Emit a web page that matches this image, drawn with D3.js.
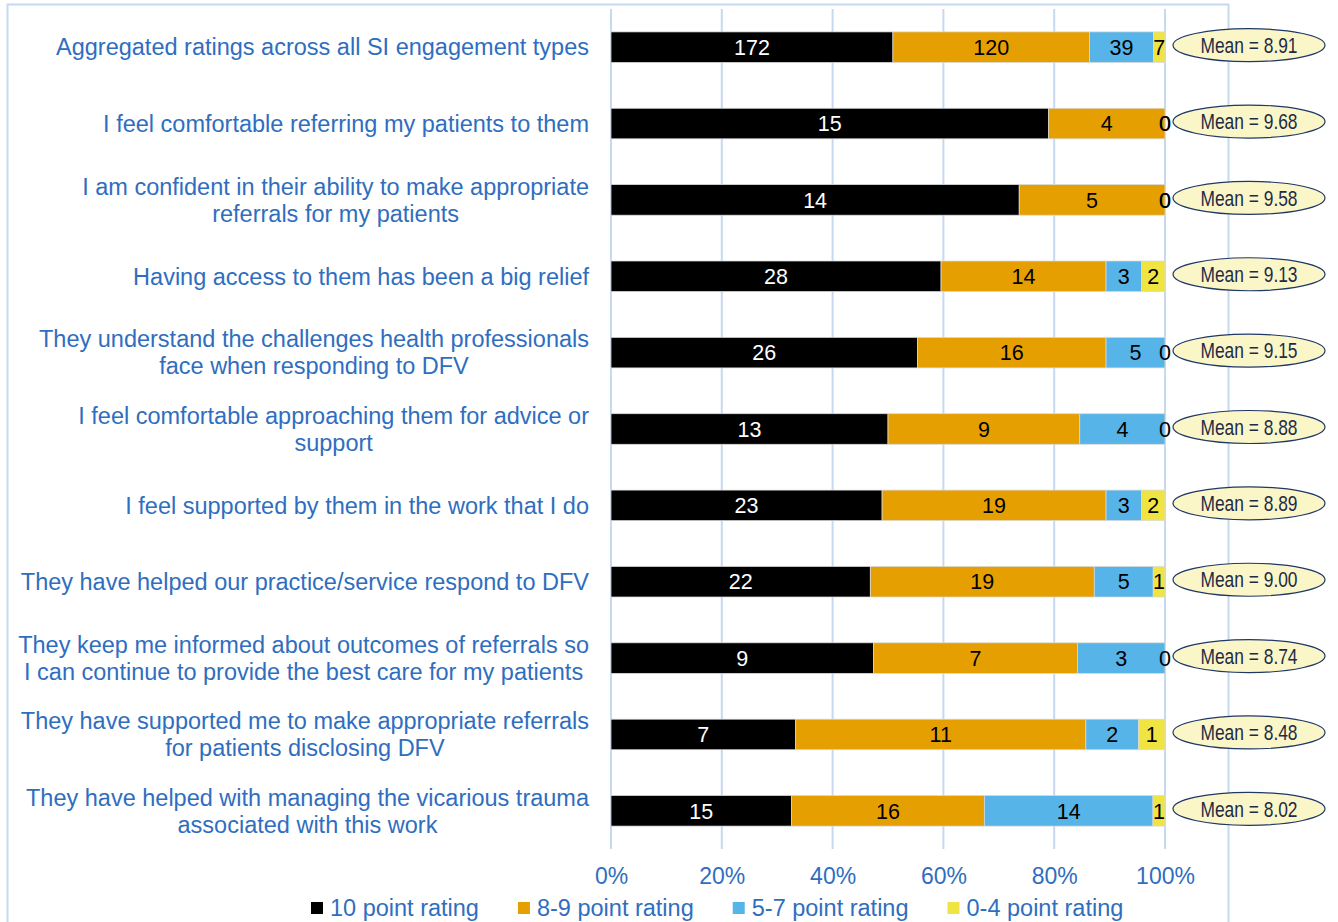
<!DOCTYPE html>
<html>
<head>
<meta charset="utf-8">
<script src="https://cdn.jsdelivr.net/npm/d3@7"></script>
<style>
  body { margin: 0; background: #fff; }
  svg { display: block; font-family: "Liberation Sans", Arial, sans-serif; }
</style>
</head>
<body>
<svg id="chart" width="1338" height="922"></svg>
<script>
// data
var categories = [
    ["Aggregated ratings across all SI engagement types"],
    ["I feel comfortable referring my patients to them"],
    ["I am confident in their ability to make appropriate", "referrals for my patients"],
    ["Having access to them has been a big relief"],
    ["They understand the challenges health professionals", "face when responding to DFV"],
    ["I feel comfortable approaching them for advice or", "support"],
    ["I feel supported by them in the work that I do"],
    ["They have helped our practice/service respond to DFV"],
    ["They keep me informed about outcomes of referrals so", "I can continue to provide the best care for my patients"],
    ["They have supported me to make appropriate referrals", "for patients disclosing DFV"],
    ["They have helped with managing the vicarious trauma", "associated with this work"]
];
var tenPoint  = [172, 15, 14, 28, 26, 13, 23, 22, 9, 7, 15];
var eightNine = [120, 4, 5, 14, 16, 9, 19, 19, 7, 11, 16];
var fiveSeven = [39, 0, 0, 3, 5, 4, 3, 5, 3, 2, 14];
var zeroFour  = [7, 0, 0, 2, 0, 0, 2, 1, 0, 1, 1];
var means = ["8.91", "9.68", "9.58", "9.13", "9.15", "8.88", "8.89", "9.00", "8.74", "8.48", "8.02"];
var seriesNames = ["10 point rating", "8-9 point rating", "5-7 point rating", "0-4 point rating"];
var tickValues = [0, 0.2, 0.4, 0.6, 0.8, 1];

var colors = ["#000000", "#E69F00", "#56B4E9", "#F0E442"];
var blue = "#2F6EBF";
var gridColor = "#C6D9F1";

var svg = d3.select("#chart");

// outer frame
svg.append("path")
    .attr("d", "M7.5,922 L7.5,4.5 L1228.5,4.5 L1228.5,922")
    .attr("fill", "none")
    .attr("stroke", gridColor)
    .attr("stroke-width", 2);

var plotTop = 9, plotBottom = 849;
var x = d3.scaleLinear().domain([0, 1]).range([611, 1165]);
var y = d3.scaleBand().domain(d3.range(categories.length)).range([plotTop, plotBottom])
    .paddingInner(0.6).paddingOuter(0.3);

// gridlines
svg.append("g").selectAll("line")
    .data(tickValues)
    .enter().append("line")
    .attr("x1", function (d) { return x(d); })
    .attr("x2", function (d) { return x(d); })
    .attr("y1", plotTop)
    .attr("y2", plotBottom)
    .attr("stroke", gridColor)
    .attr("stroke-width", 2);

// x axis ticks
var xAxis = svg.append("g")
    .attr("transform", "translate(0," + (plotBottom + 19) + ")")
    .call(d3.axisBottom(x).tickValues(tickValues).tickFormat(d3.format(".0%")).tickSize(0).tickPadding(0));
xAxis.select(".domain").remove();
xAxis.selectAll("text")
    .attr("fill", blue)
    .attr("dy", "0.71em")
    .style("font-size", "23px")
    .style("font-family", "'Liberation Sans', Arial, sans-serif");

// stacked data
var rows = categories.map(function (c, i) {
    var vals = [tenPoint[i], eightNine[i], fiveSeven[i], zeroFour[i]];
    var total = d3.sum(vals);
    var acc = 0;
    return vals.map(function (v, k) {
        var seg = { row: i, k: k, value: v, x0: acc / total, x1: (acc + v) / total };
        acc += v;
        return seg;
    });
});
var segs = [].concat.apply([], rows);

var bars = svg.append("g");
bars.selectAll("rect")
    .data(segs.filter(function (d) { return d.value > 0; }))
    .enter().append("rect")
    .attr("x", function (d) { return x(d.x0); })
    .attr("y", function (d) { return y(d.row); })
    .attr("width", function (d) { return x(d.x1) - x(d.x0); })
    .attr("height", y.bandwidth())
    .attr("fill", function (d) { return colors[d.k]; })
    .attr("stroke", "#d9d9d9")
    .attr("stroke-width", 0.75);

bars.selectAll("text")
    .data(segs)
    .enter().append("text")
    .attr("x", function (d) { return (x(d.x0) + x(d.x1)) / 2; })
    .attr("y", function (d) { return y(d.row) + y.bandwidth() / 2; })
    .attr("dy", "0.36em")
    .attr("text-anchor", "middle")
    .attr("fill", function (d) { return d.k == 0 ? "#fff" : "#000"; })
    .style("font-size", "21.5px")
    .text(function (d) { return d.value; });

// category labels
var labels = svg.append("g").selectAll("text")
    .data(categories)
    .enter().append("text")
    .attr("text-anchor", "end")
    .attr("fill", blue)
    .style("font-size", "23.5px")
    .attr("transform", function (d, i) {
        var cy = y(i) + y.bandwidth() / 2 - (d.length - 1) * 13.5;
        return "translate(589," + cy + ")";
    });
labels.selectAll("tspan")
    .data(function (d) { return d; })
    .enter().append("tspan")
    .attr("x", 0)
    .attr("y", function (d, j) { return j * 27; })
    .attr("dy", "0.35em")
    .attr("text-anchor", function (d, j, nodes) { return nodes.length > 1 ? "middle" : "end"; })
    .text(function (d) { return d; });

// multi-line labels are centred on their widest line
labels.each(function (d) {
    if (d.length < 2) return;
    var ts = d3.select(this).selectAll("tspan");
    var w = 0;
    ts.each(function () { w = Math.max(w, this.getComputedTextLength()); });
    ts.attr("x", -w / 2);
});

// mean callouts
var meanG = svg.append("g").selectAll("g")
    .data(means)
    .enter().append("g")
    .attr("transform", function (d, i) { return "translate(1249," + (y(i) + y.bandwidth() / 2 - 2) + ")"; });
meanG.append("ellipse")
    .attr("rx", 76)
    .attr("ry", 16.5)
    .attr("fill", "#FAF6C8")
    .attr("stroke", "#1F3864")
    .attr("stroke-width", 1.2);
meanG.append("text")
    .attr("text-anchor", "middle")
    .attr("dy", "0.35em")
    .attr("transform", "scale(0.79,1)")
    .attr("fill", "#1F2B45")
    .style("font-size", "22px")
    .text(function (d) { return "Mean = " + d; });

// legend
var legend = svg.append("g").attr("transform", "translate(311,908)");
var lx = 0;
seriesNames.forEach(function (name, k) {
    var item = legend.append("g").attr("transform", "translate(" + lx + ",0)");
    item.append("rect")
        .attr("x", 0).attr("y", -6)
        .attr("width", 12).attr("height", 12)
        .attr("fill", colors[k]);
    var t = item.append("text")
        .attr("x", 19)
        .attr("dy", "0.35em")
        .attr("fill", blue)
        .style("font-size", "23.5px")
        .text(name);
    lx += 19 + t.node().getComputedTextLength() + 39;
});
</script>
</body>
</html>
